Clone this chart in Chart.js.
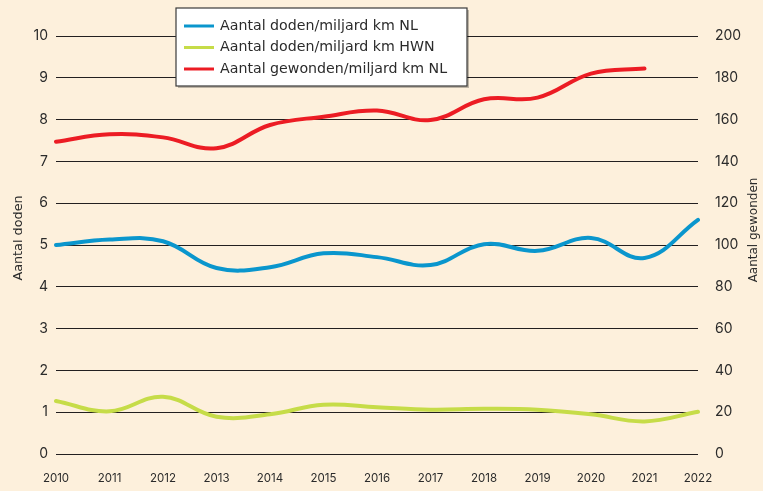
<!DOCTYPE html>
<html>
<head>
<meta charset="utf-8">
<script src="https://cdn.jsdelivr.net/npm/chart.js@4.4.0/dist/chart.umd.min.js"></script>
<style>
  html, body { margin: 0; padding: 0; background: #fdf0dc; }
  #wrap { width: 763px; height: 491px; position: relative; }
</style>
</head>
<body>
<div id="wrap"><canvas id="myChart"></canvas></div>
<script>
// jaren
const jaren = ['2010', '2011', '2012', '2013', '2014', '2015', '2016', '2017', '2018', '2019', '2020', '2021', '2022'];

// doden per miljard km (linker as)
const dodenNL = [5.0, 5.13, 5.09, 4.45, 4.47, 4.8, 4.71, 4.52, 5.02, 4.86, 5.17, 4.69, 5.6];
const dodenHWN = [1.27, 1.02, 1.37, 0.89, 0.95, 1.18, 1.12, 1.06, 1.08, 1.06, 0.95, 0.78, 1.01];

// gewonden per miljard km (rechter as), 2022 ontbreekt
const gewondenNL = [149.4, 153, 151.5, 146.3, 157.4, 161.4, 164.3, 159.8, 169.7, 170.5, 182, 184.4, null];

const labels = ['Aantal doden/miljard km NL', 'Aantal doden/miljard km HWN', 'Aantal gewonden/miljard km NL'];
const kleuren = ['#0a96cd', '#c6dc48', '#ec1c24'];

const fontFam = 'Inter, "Noto Sans", sans-serif';
const legendFont = '"DejaVu Sans", sans-serif';
const tekstKleur = '#2b2b2b';

// eigen legenda en astitels (legenda ligt over de grafiek heen)
const extraPlugin = {
    id: 'extra',
    afterDraw(chart) {
        const ctx = chart.ctx;
        ctx.save();

        // astitels
        ctx.fillStyle = tekstKleur;
        ctx.textAlign = 'center';
        ctx.textBaseline = 'middle';
        ctx.save();
        ctx.font = '12.8px ' + legendFont;
        ctx.translate(19, 238);
        ctx.rotate(-Math.PI / 2);
        ctx.fillText('Aantal doden', 0, 0);
        ctx.restore();
        ctx.save();
        ctx.font = '12px ' + legendFont;
        ctx.translate(754, 230);
        ctx.rotate(-Math.PI / 2);
        ctx.fillText('Aantal gewonden', 0, 0);
        ctx.restore();

        // legenda kader
        const bx = 176, by = 8, bw = 291, bh = 78;
        ctx.fillStyle = 'rgba(0,0,0,0.25)';
        ctx.fillRect(bx + 2, by + 2, bw, bh);
        ctx.fillStyle = '#ffffff';
        ctx.fillRect(bx, by, bw, bh);
        ctx.strokeStyle = '#3a3a3a';
        ctx.lineWidth = 1.2;
        ctx.strokeRect(bx, by, bw, bh);

        ctx.textAlign = 'left';
        chart.data.datasets.forEach((ds, i) => {
            const y = 26 + i * 21.5;
            ctx.strokeStyle = ds.borderColor;
            ctx.lineWidth = 3;
            ctx.beginPath();
            ctx.moveTo(184, y);
            ctx.lineTo(214, y);
            ctx.stroke();
            ctx.fillStyle = tekstKleur;
            ctx.font = '14.2px ' + legendFont;
            ctx.fillText(ds.label, 220, y);
        });
        ctx.restore();
    }
};

const ctx = document.getElementById('myChart').getContext('2d');
new Chart(ctx, {
    type: 'line',
    data: {
        labels: jaren,
        datasets: [
            { label: labels[0], data: dodenNL, borderColor: kleuren[0], yAxisID: 'y' },
            { label: labels[1], data: dodenHWN, borderColor: kleuren[1], yAxisID: 'y' },
            { label: labels[2], data: gewondenNL, borderColor: kleuren[2], yAxisID: 'y1' }
        ]
    },
    options: {
        responsive: true,
        maintainAspectRatio: false,
        animation: false,
        layout: { padding: { top: 36, left: 0, right: 0, bottom: 0 } },
        elements: {
            line: { borderWidth: 4, tension: 0.4, borderCapStyle: 'round', fill: false },
            point: { radius: 0 }
        },
        plugins: {
            legend: { display: false },
            tooltip: { enabled: false }
        },
        scales: {
            x: {
                offset: false,
                grid: { display: false },
                border: { display: false },
                ticks: { color: tekstKleur, font: { family: fontFam, size: 11.5 }, padding: 10, maxRotation: 0 },
                afterFit(scale) { scale.height = 37; }
            },
            y: {
                position: 'left',
                min: 0,
                max: 10,
                ticks: { stepSize: 1, color: tekstKleur, font: { family: fontFam, size: 14 }, padding: 8 },
                grid: { color: '#231f20', lineWidth: 1, drawTicks: false },
                border: { display: false },
                afterFit(scale) { scale.width = 56; }
            },
            y1: {
                position: 'right',
                min: 0,
                max: 200,
                ticks: { stepSize: 20, color: tekstKleur, font: { family: fontFam, size: 14 }, padding: 9 },
                grid: { display: false },
                border: { display: false },
                afterFit(scale) { scale.width = 65; }
            }
        }
    },
    plugins: [extraPlugin]
});
</script>
</body>
</html>
